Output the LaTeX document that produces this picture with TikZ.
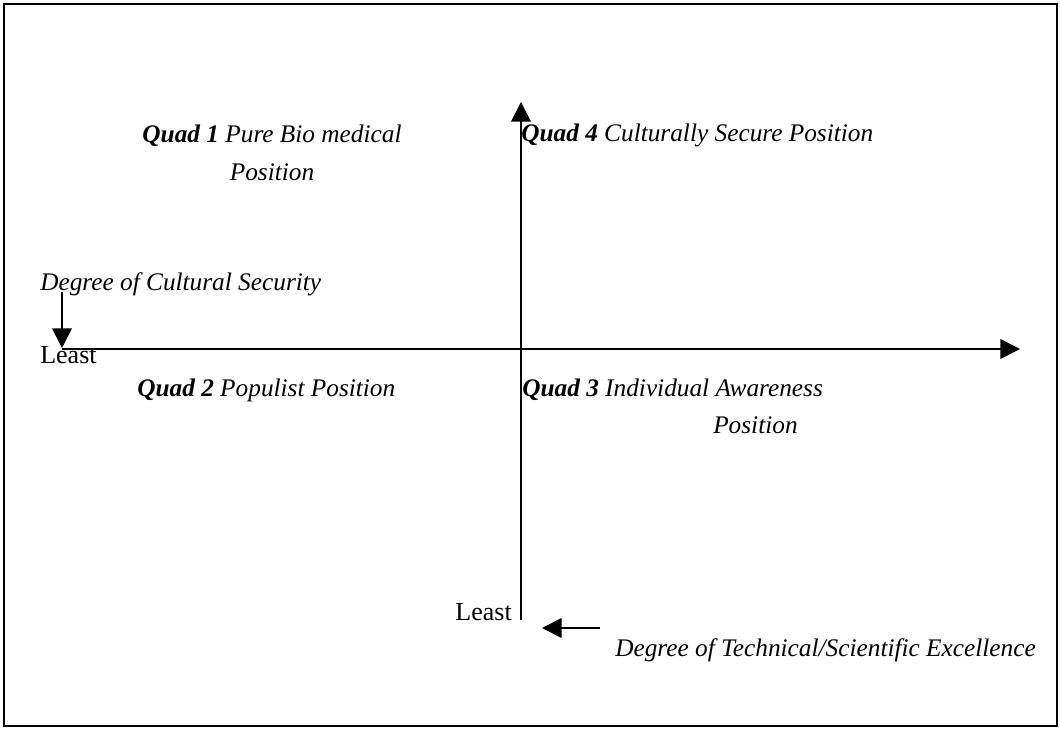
\documentclass[tikz,border=0pt]{standalone}
\usepackage{fontspec}
\setmainfont{Liberation Serif}
\usetikzlibrary{arrows.meta}
\begin{document}
\begin{tikzpicture}[x=0.25mm,y=-0.25mm,
  axis/.style={line width=1.2pt,-{Triangle[length=14pt,width=14pt]}},
  lbl/.style={inner sep=0pt,font=\fontsize{18}{27}\selectfont\itshape},
  least/.style={inner sep=0pt,font=\fontsize{18.5}{22}\selectfont}]
\useasboundingbox (0,0) rectangle (1060,729);
\draw[line width=1.5pt] (4,4) rectangle (1057,726);

\coordinate (xs) at (62,349);
\coordinate (xe) at (1020,349);
\coordinate (ys) at (521,620);
\coordinate (ye) at (521,102);
\coordinate (cs1) at (62,292);
\coordinate (cs2) at (62,348);
\coordinate (te1) at (600,628);
\coordinate (te2) at (542,628);

\draw[axis] (xs) -- (xe);
\draw[axis] (ys) -- (ye);
\draw[axis] (cs1) -- (cs2);
\draw[axis] (te1) -- (te2);

\node[least,anchor=west] (leastx) at (40,355) {Least};
\node[least,anchor=east] (leasty) at (512,612) {Least};

\node[lbl,anchor=west] (cult) at (40,284) {Degree of Cultural Security};
\node[lbl,anchor=west] (tech) at (615,650) {Degree of Technical/Scientific Excellence};

\node[lbl,align=center] (q1) at (272,153) {\textbf{Quad 1} Pure Bio medical\\Position};
\node[lbl,anchor=west] (q4) at (521,135) {\textbf{Quad 4} Culturally Secure Position};
\node[lbl,anchor=west] (q2) at (137,390) {\textbf{Quad 2} Populist Position};
\node[lbl,anchor=west] (q3) at (522,390) {\textbf{Quad 3} Individual Awareness};
\node[lbl,anchor=west] (q3pos) at (713,425) {Position};
\end{tikzpicture}
\end{document}
